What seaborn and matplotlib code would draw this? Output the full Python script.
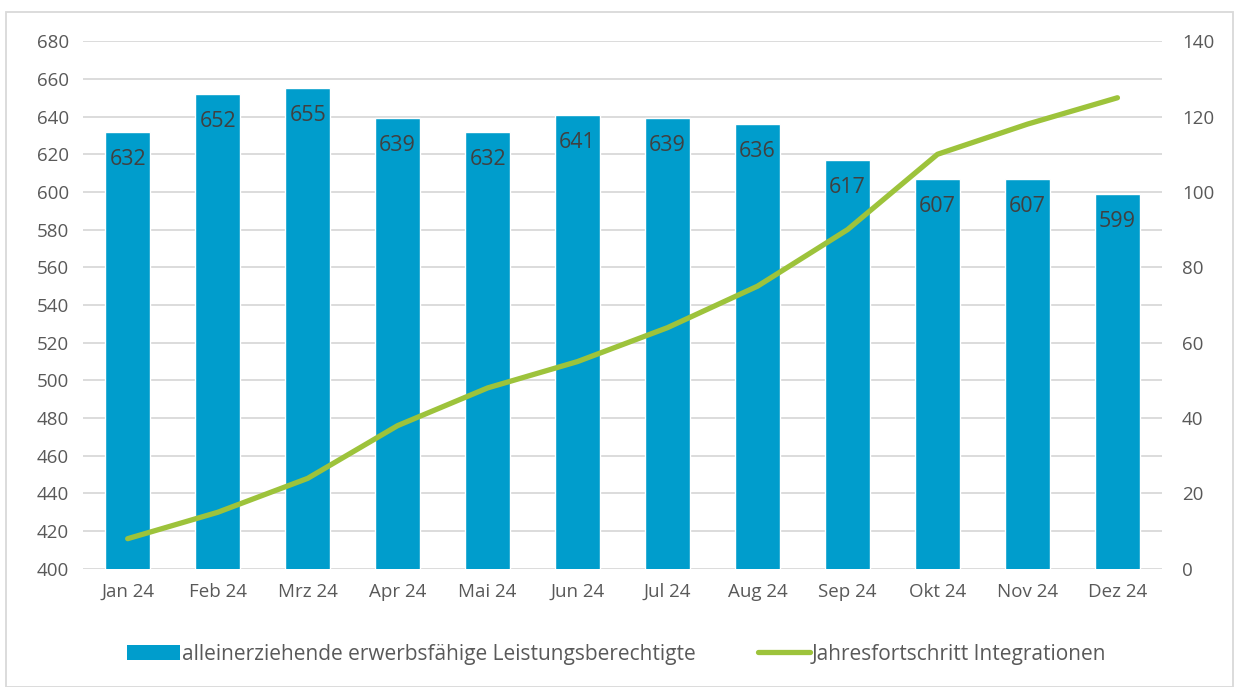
import matplotlib
matplotlib.use("Agg")
import matplotlib.pyplot as plt
import seaborn as sns
import numpy as np
import pandas as pd
from matplotlib.patches import Rectangle
from matplotlib.lines import Line2D
from matplotlib.patches import Patch

months = ["Jan 24", "Feb 24", "Mrz 24", "Apr 24", "Mai 24", "Jun 24",
          "Jul 24", "Aug 24", "Sep 24", "Okt 24", "Nov 24", "Dez 24"]
leistungsberechtigte = [632, 652, 655, 639, 632, 641, 639, 636, 617, 607, 607, 599]
integrationen = [8, 15, 24, 38, 48, 55, 64, 75, 90, 110, 118, 125]

bar_label = "alleinerziehende erwerbsfähige Leistungsberechtigte"
line_label = "Jahresfortschritt Integrationen"

BAR_COLOR = "#009DCC"
LINE_COLOR = "#9DC33B"
TEXT_COLOR = "#595959"
GRID_COLOR = "#D9D9D9"

sns.set_style("white")
plt.rcParams['font.family'] = ['Open Sans', 'DejaVu Sans']

df = pd.DataFrame({"Monat": months, "LB": leistungsberechtigte, "Int": integrationen})

fig = plt.figure(figsize=(12.34, 6.87), dpi=100)
ax = fig.add_axes([0.067, 0.172, 0.875, 0.768])

sns.barplot(data=df, x="Monat", y="LB", color=BAR_COLOR, width=0.5,
            saturation=1, ax=ax, zorder=2)
ax.set_ylim(400, 680)
ax.set_yticks(np.arange(400, 681, 20))
ax.yaxis.grid(True, color=GRID_COLOR, linewidth=1.3, zorder=0)
ax.set_axisbelow(True)
ax.set_xlim(-0.5, len(months) - 0.5)
ax.set_xlabel("")
ax.set_ylabel("")
for s in ax.spines.values():
    s.set_visible(False)
ax.tick_params(axis="both", length=0, labelsize=13.5, colors=TEXT_COLOR, pad=10)

# value labels inside the top of each bar
for bar, val in zip(ax.patches, leistungsberechtigte):
    ax.text(bar.get_x() + bar.get_width() / 2, val - 9, f"{val}",
            ha="center", va="top", fontsize=15.5, color="#404040", zorder=3)

ax2 = ax.twinx()
sns.lineplot(x=np.arange(len(months)), y=integrationen, color=LINE_COLOR,
             linewidth=3.8, ax=ax2, zorder=4, solid_capstyle="round")
ax2.set_ylim(0, 140)
ax2.set_yticks(np.arange(0, 141, 20))
ax2.set_xlim(-0.5, len(months) - 0.5)
for s in ax2.spines.values():
    s.set_visible(False)
ax2.tick_params(axis="y", length=0, labelsize=13.5, colors=TEXT_COLOR, pad=14)
ax2.grid(False)

handles = [Patch(facecolor=BAR_COLOR, edgecolor="none"),
           Line2D([0], [0], color=LINE_COLOR, linewidth=3.8, solid_capstyle="round")]
fig.legend(handles, [bar_label, line_label], loc="center", bbox_to_anchor=(0.5, 0.048),
           ncol=2, frameon=False, fontsize=15, labelcolor=TEXT_COLOR,
           handlelength=2.5, handleheight=0.7, handletextpad=0.1, columnspacing=3.0)

fig.patches.append(Rectangle((0.005, 0.0), 0.994, 0.983, transform=fig.transFigure,
                             fill=False, edgecolor=GRID_COLOR, linewidth=1.3))

fig.savefig("out.png", dpi=100)
